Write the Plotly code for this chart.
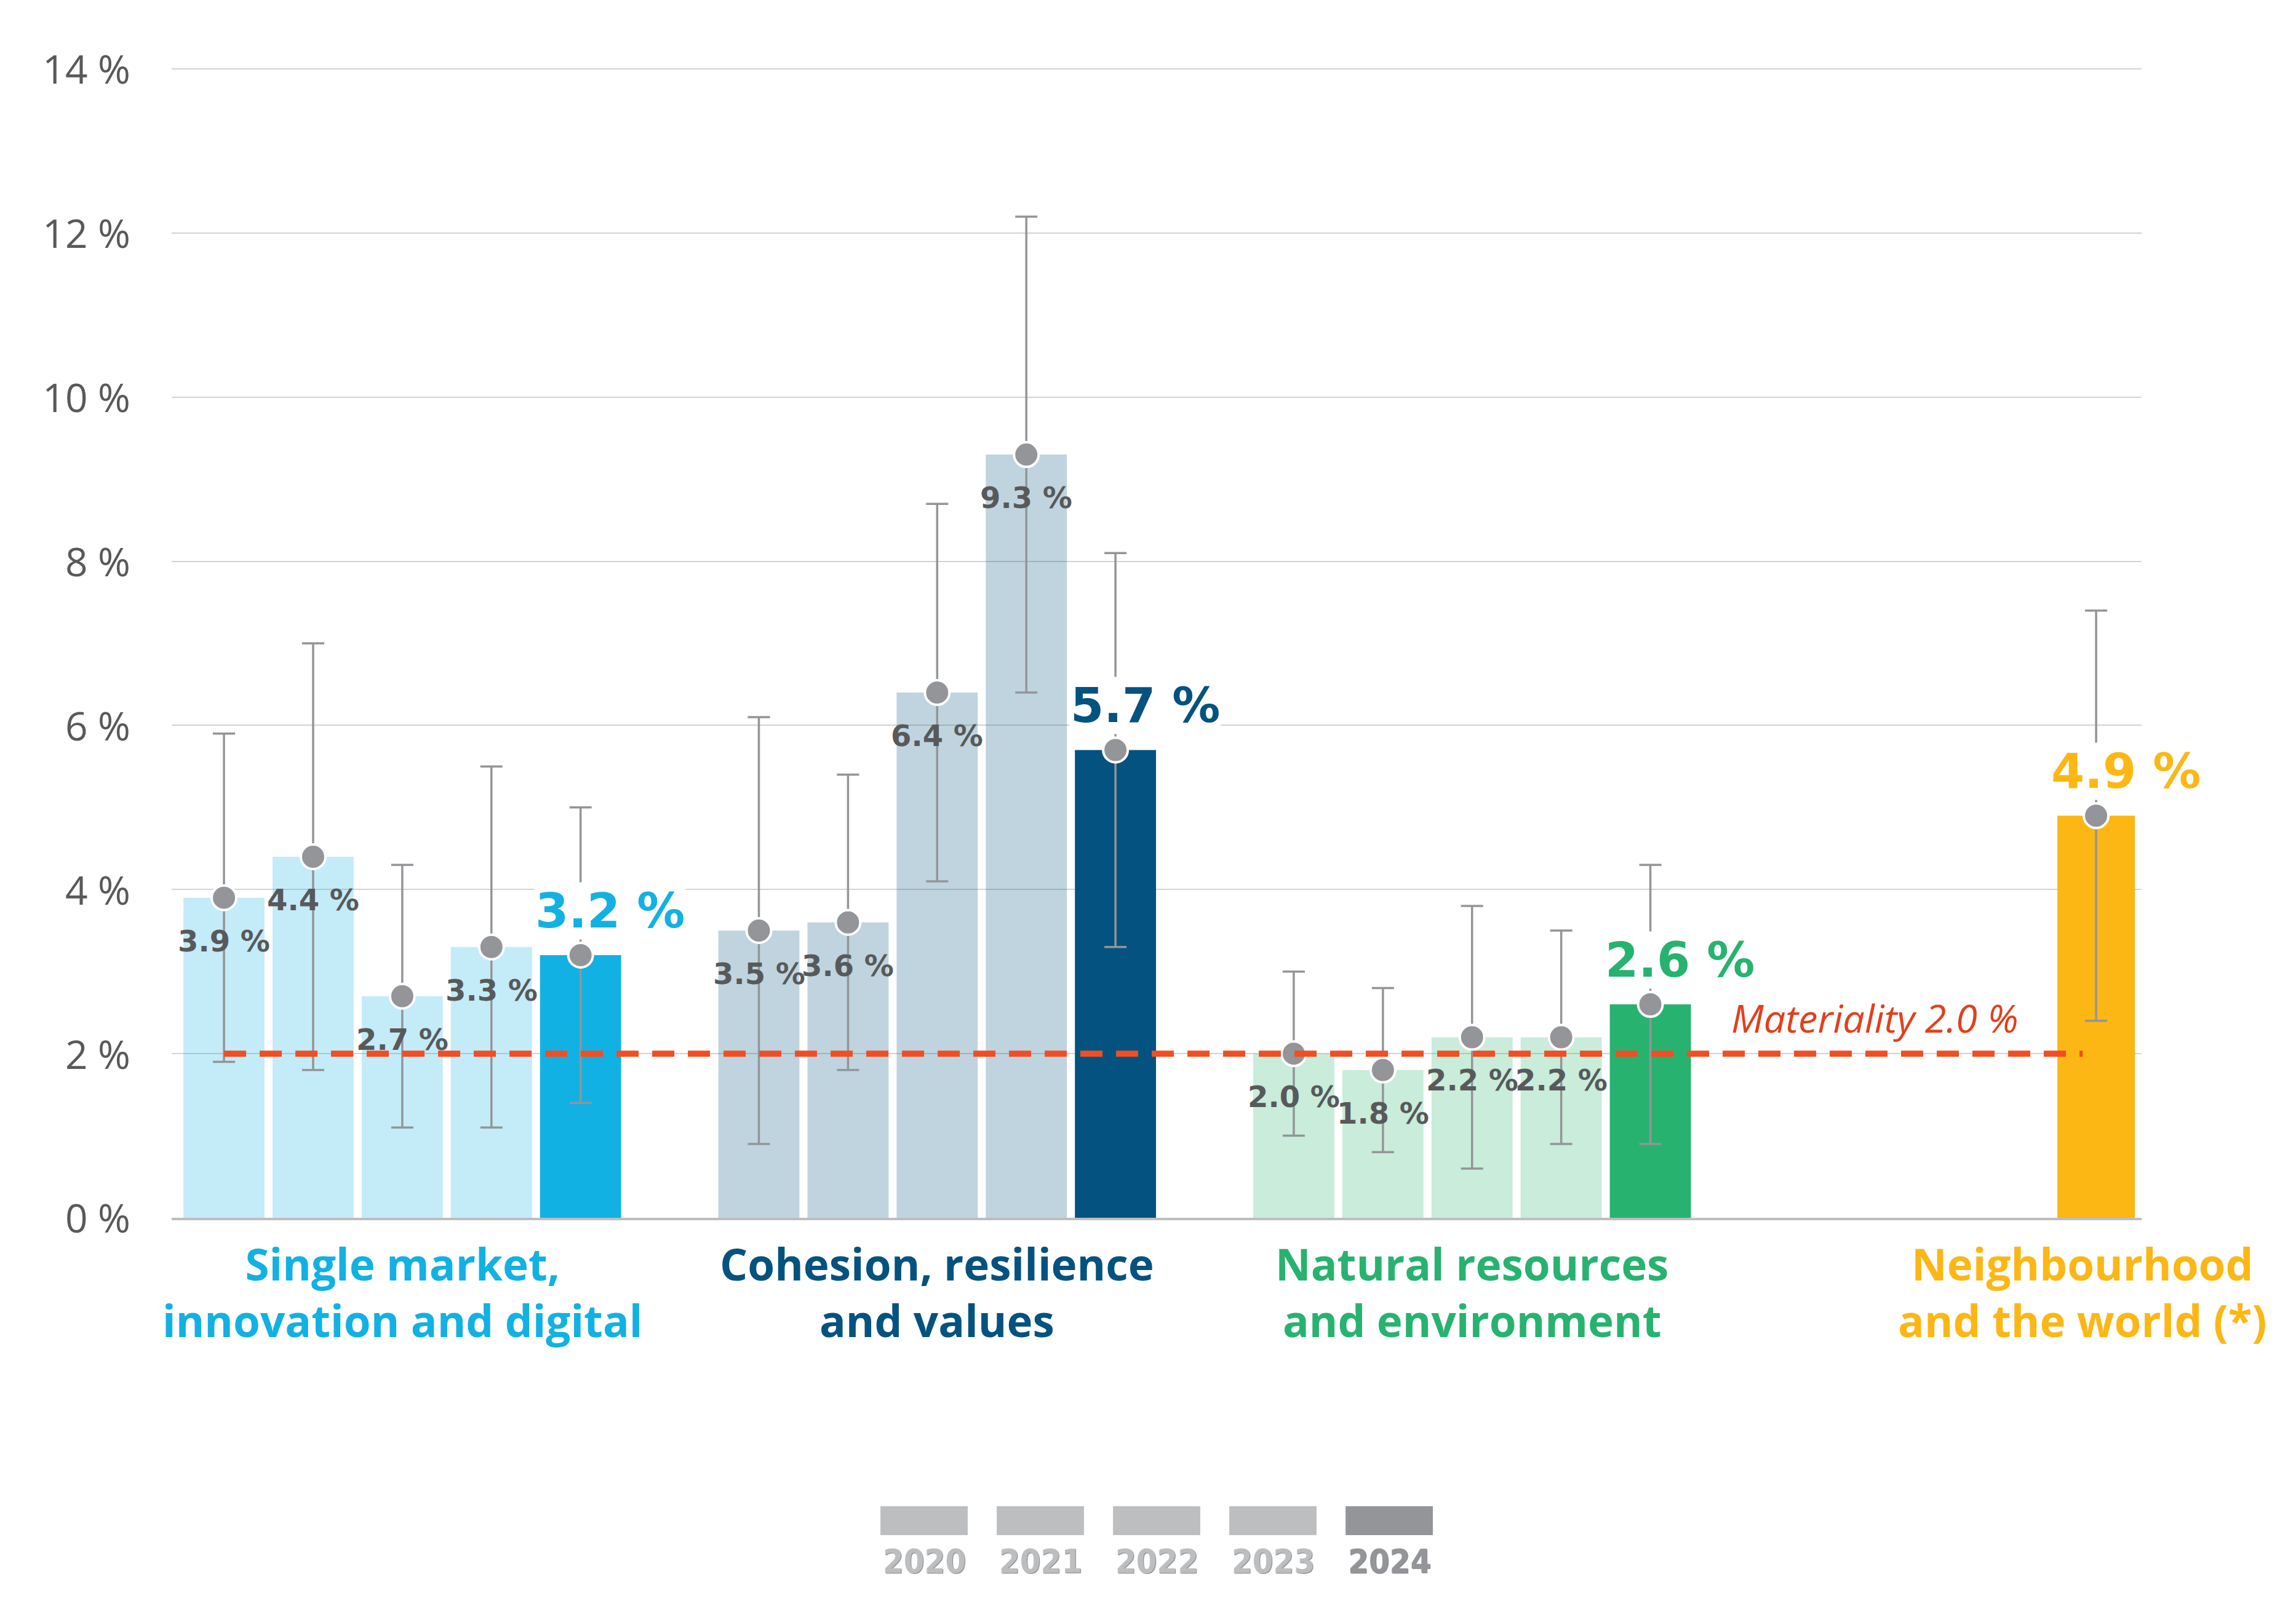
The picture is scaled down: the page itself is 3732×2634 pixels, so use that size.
import plotly.graph_objects as go

# ---------------- data ----------------
years = ["2020", "2021", "2022", "2023", "2024"]
groups = [
    "Single market,<br>innovation and digital",
    "Cohesion, resilience<br>and values",
    "Natural resources<br>and environment",
    "Neighbourhood<br>and the world (*)",
]
single_market = [3.9, 4.4, 2.7, 3.3, 3.2]
single_market_upper = [5.9, 7.0, 4.3, 5.5, 5.0]
single_market_lower = [1.9, 1.8, 1.1, 1.1, 1.4]

cohesion = [3.5, 3.6, 6.4, 9.3, 5.7]
cohesion_upper = [6.1, 5.4, 8.7, 12.2, 8.1]
cohesion_lower = [0.9, 1.8, 4.1, 6.4, 3.3]

natural = [2.0, 1.8, 2.2, 2.2, 2.6]
natural_upper = [3.0, 2.8, 3.8, 3.5, 4.3]
natural_lower = [1.0, 0.8, 0.6, 0.9, 0.9]

neighbourhood = [4.9]
neighbourhood_upper = [7.4]
neighbourhood_lower = [2.4]
neighbourhood_years = ["2024"]

materiality = 2.0
materiality_label = "Materiality 2.0 %"

y_ticks = [0, 2, 4, 6, 8, 10, 12, 14]
y_tick_labels = ["0 %", "2 %", "4 %", "6 %", "8 %", "10 %", "12 %", "14 %"]

# ---------------- styling ----------------
group_colors = ["#12b1e3", "#04527f", "#27b36f", "#fcb715"]
group_starts = [0, 6, 12, 17]
bar_widths = [0.91, 0.91, 0.91, 0.87]
GRAY = "#939598"
TEXT = "#58595b"


def rgba(hx, a):
    hx = hx.lstrip("#")
    r, g, b = int(hx[0:2], 16), int(hx[2:4], 16), int(hx[4:6], 16)
    return f"rgba({r},{g},{b},{a})"


series = [
    (years, single_market, single_market_upper, single_market_lower),
    (years, cohesion, cohesion_upper, cohesion_lower),
    (years, natural, natural_upper, natural_lower),
    (neighbourhood_years, neighbourhood, neighbourhood_upper, neighbourhood_lower),
]

fig = go.Figure()
annotations = []

for gi, (yrs, vals, ups, lows) in enumerate(series):
    color = group_colors[gi]
    xs = [group_starts[gi] + years.index(y) for y in yrs]
    cols = [color if y == "2024" else rgba(color, 0.25) for y in yrs]
    fig.add_trace(go.Bar(
        x=xs, y=vals, width=bar_widths[gi],
        marker=dict(color=cols, line=dict(width=0)),
        showlegend=False, hoverinfo="skip",
    ))
    fig.add_trace(go.Scatter(
        x=xs, y=vals, mode="markers",
        marker=dict(size=40, color=GRAY, line=dict(color="white", width=4)),
        error_y=dict(
            type="data", symmetric=False,
            array=[u - v for u, v in zip(ups, vals)],
            arrayminus=[v - l for v, l in zip(vals, lows)],
            color=GRAY, thickness=3.5, width=18,
        ),
        showlegend=False, hoverinfo="skip",
    ))
    for x, y, v in zip(xs, yrs, vals):
        txt = f"{v:.1f} %"
        if y == "2024":
            annotations.append(dict(
                x=x, y=v, xref="x", yref="y", text=f"<b>{txt}</b>",
                showarrow=False, xshift=48, yshift=72, bgcolor="white",
                font=dict(family="DejaVu Sans", size=78, color=color),
            ))
        else:
            annotations.append(dict(
                x=x, y=v, xref="x", yref="y", text=f"<b>{txt}</b>",
                showarrow=False, yshift=-70,
                font=dict(family="DejaVu Sans", size=48, color=TEXT),
            ))
    # category label
    annotations.append(dict(
        x=group_starts[gi] + 2 if gi < 3 else xs[0] - 0.15, y=0, xref="x", yref="y",
        text=f"<b>{groups[gi]}</b>", showarrow=False, yanchor="top", yshift=-24,
        font=dict(family="Open Sans", size=71, color=color),
        align="center",
    ))

# materiality line
fig.add_trace(go.Scatter(
    x=[0, 20.85], y=[materiality, materiality], mode="lines",
    line=dict(color="#f04e23", width=10, dash="36px,22px"),
    showlegend=False, hoverinfo="skip",
))
annotations.append(dict(
    x=16.89, y=materiality, xref="x", yref="y", text=f"<i>{materiality_label}</i>",
    showarrow=False, xanchor="left", yshift=59,
    font=dict(family="Open Sans", size=63, color="#e2401c"),
))

# year legend (drawn manually: swatch above label)
shapes = []
sw_x0 = 0.3598
sw_step = 0.05903
sw_w = 0.0443
for i, y in enumerate(years):
    c = GRAY if y == "2024" else "#bcbec0"
    x0 = sw_x0 + i * sw_step
    shapes.append(dict(type="rect", xref="paper", yref="paper",
                       x0=x0, x1=x0 + sw_w, y0=-0.2757, y1=-0.2505,
                       fillcolor=c, line=dict(width=0)))
    annotations.append(dict(
        x=x0 + sw_w / 2, y=-0.2982, xref="paper", yref="paper",
        xanchor="center", yanchor="middle",
        text=f"<b>{y}</b>", showarrow=False,
        font=dict(family="DejaVu Sans Condensed, Liberation Sans Narrow, Roboto", size=54, color=c,
                  shadow="1px 1px 1px #808285"),
    ))

fig.update_layout(
    width=3732, height=2634,
    margin=dict(l=279, r=251, t=108, b=654),
    paper_bgcolor="white", plot_bgcolor="white",
    barmode="overlay",
    annotations=annotations, shapes=shapes,
    xaxis=dict(range=[-0.587, 21.51], showticklabels=False, showgrid=False,
               zeroline=False, showline=True, linecolor="#bcbec0", linewidth=4,
               fixedrange=True),
    yaxis=dict(range=[0, 14.03], tickvals=y_ticks, ticktext=y_tick_labels,
               showgrid=True, gridcolor="#d1d3d4", gridwidth=2,
               zeroline=False, showline=False, ticks="",
               ticklabelstandoff=66, ticklabelshift=2,
               tickfont=dict(family="Open Sans", size=64, color=TEXT),
               fixedrange=True),
    font=dict(family="Open Sans"),
)

fig.write_html("out.html")
